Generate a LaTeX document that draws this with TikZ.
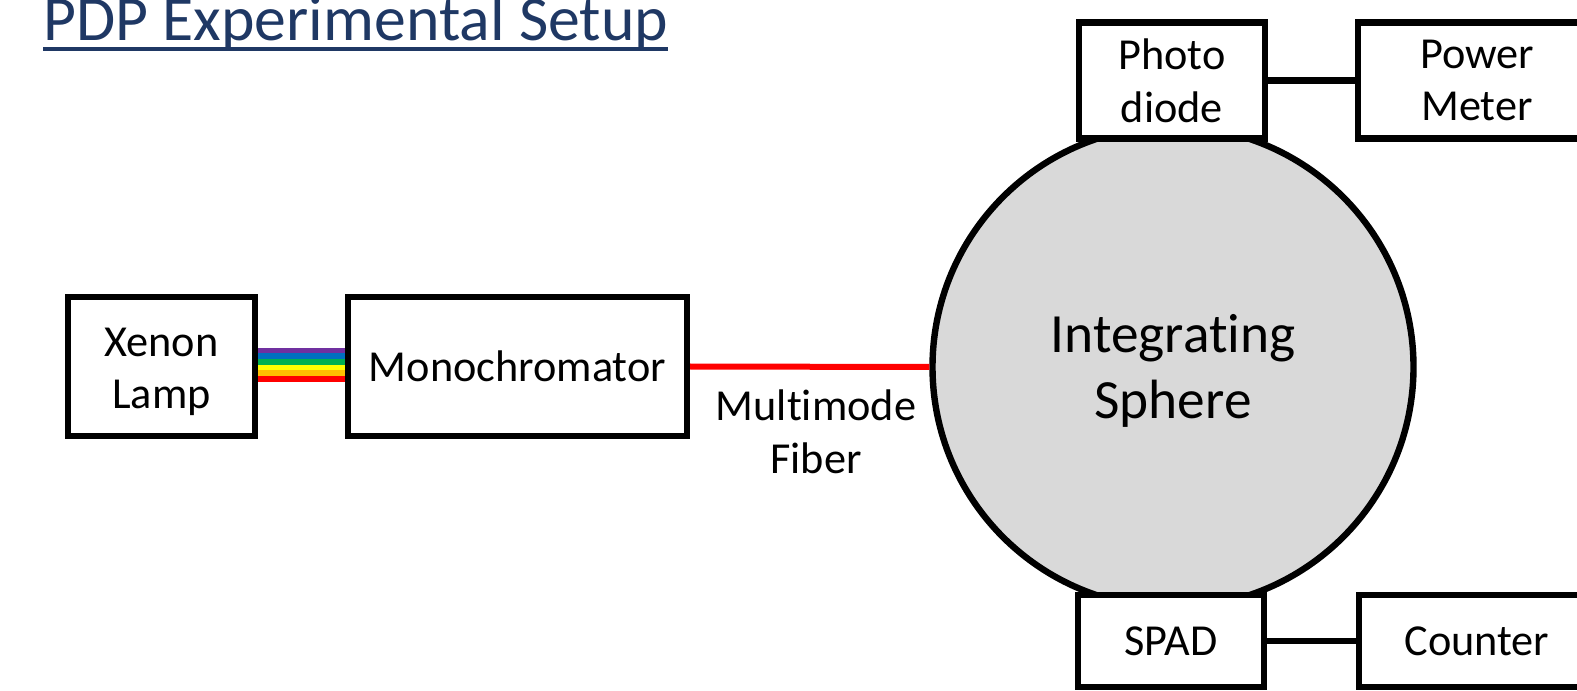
\documentclass[tikz,border=0pt]{standalone}
\usepackage{fontspec}
\setmainfont{Carlito}[Ligatures=NoCommon]
\usetikzlibrary{calc}
\definecolor{titleblue}{HTML}{1F3864}
\definecolor{spheregray}{HTML}{D9D9D9}
\definecolor{rbPurple}{HTML}{7030A0}
\definecolor{rbBlue}{HTML}{0070C0}
\definecolor{rbGreen}{HTML}{00B050}
\definecolor{rbYellow}{HTML}{FFFF00}
\definecolor{rbOrange}{HTML}{FFC000}
\definecolor{rbRed}{HTML}{FF0000}
% two centred lines; extra head room (#3) pushes them lower inside the node
\newcommand{\twolines}[3]{\raisebox{0pt}[\dimexpr\height+#3\relax][\depth]{\begin{tabular}{@{}c@{}}#1\\#2\end{tabular}}}
\begin{document}
\begin{tikzpicture}[x=0.75pt,y=-0.75pt,
  box/.style={draw, line width=4.8pt, fill=white, align=center, inner sep=0pt,
    font=\fontsize{33.2}{39.5}\selectfont},
  wire/.style={line width=4.8pt},
  fiber/.style={line width=4.5pt, draw=rbRed},
  lbl/.style={align=center, inner sep=0pt, font=\fontsize{33.2}{39.5}\selectfont},
]
\useasboundingbox (0,0) rectangle (1577,691);

% title
\node[anchor=base west, inner sep=0pt, text=titleblue,
  font=\fontsize{47.8}{57}\selectfont] (title) at (43,41) {PDP Experimental Setup};
\draw[titleblue, line width=2.6pt]
  ($(title.base west)+(0,8)$) -- ($(title.base east)+(0,8)$);

% integrating sphere
\node[circle, draw, fill=spheregray, line width=4.8pt, minimum size=481*0.75pt,
  inner sep=0pt, align=center, font=\fontsize{41.5}{49.5}\selectfont]
  (sphere) at (1173,367) {\twolines{Integrating}{Sphere}{7.5pt}};

% instrument boxes
\node[box, minimum width=187*0.75pt, minimum height=139*0.75pt] (xenon) at (161.5,366.5) {\twolines{Xenon}{Lamp}{8pt}};
\node[box, minimum width=339*0.75pt, minimum height=139*0.75pt] (mono) at (517.5,366.5) {Monochromator};
\node[box, minimum width=186*0.75pt, minimum height=116*0.75pt] (pd) at (1172,80.5) {Photo\\diode};
\node[box, minimum width=238*0.75pt, minimum height=116*0.75pt] (pm) at (1477,80.5) {Power\\Meter};
\node[box, minimum width=186*0.75pt, minimum height=92*0.75pt] (spad) at (1171,641) {SPAD};
\node[box, minimum width=236*0.75pt, minimum height=92*0.75pt] (counter) at (1477,641) {Counter};

% white light between lamp and monochromator
\foreach \c [count=\i from 0] in {rbPurple,rbBlue,rbGreen,rbYellow,rbOrange,rbRed}{
  \fill[\c] ($(xenon.east)+(0,-18.8+5.67*\i)$) rectangle ($(mono.west)+(0,-18.8+5.67*\i+5.67)$);
}

% fiber and cables
\draw[fiber] (mono.east) -- (sphere.west);
\node[lbl] (fiberlbl) at (816,432) {Multimode\\Fiber};
\draw[wire] (pd.east) -- (pm.west);
\draw[wire] (spad.east) -- (counter.west);
\end{tikzpicture}
\end{document}
